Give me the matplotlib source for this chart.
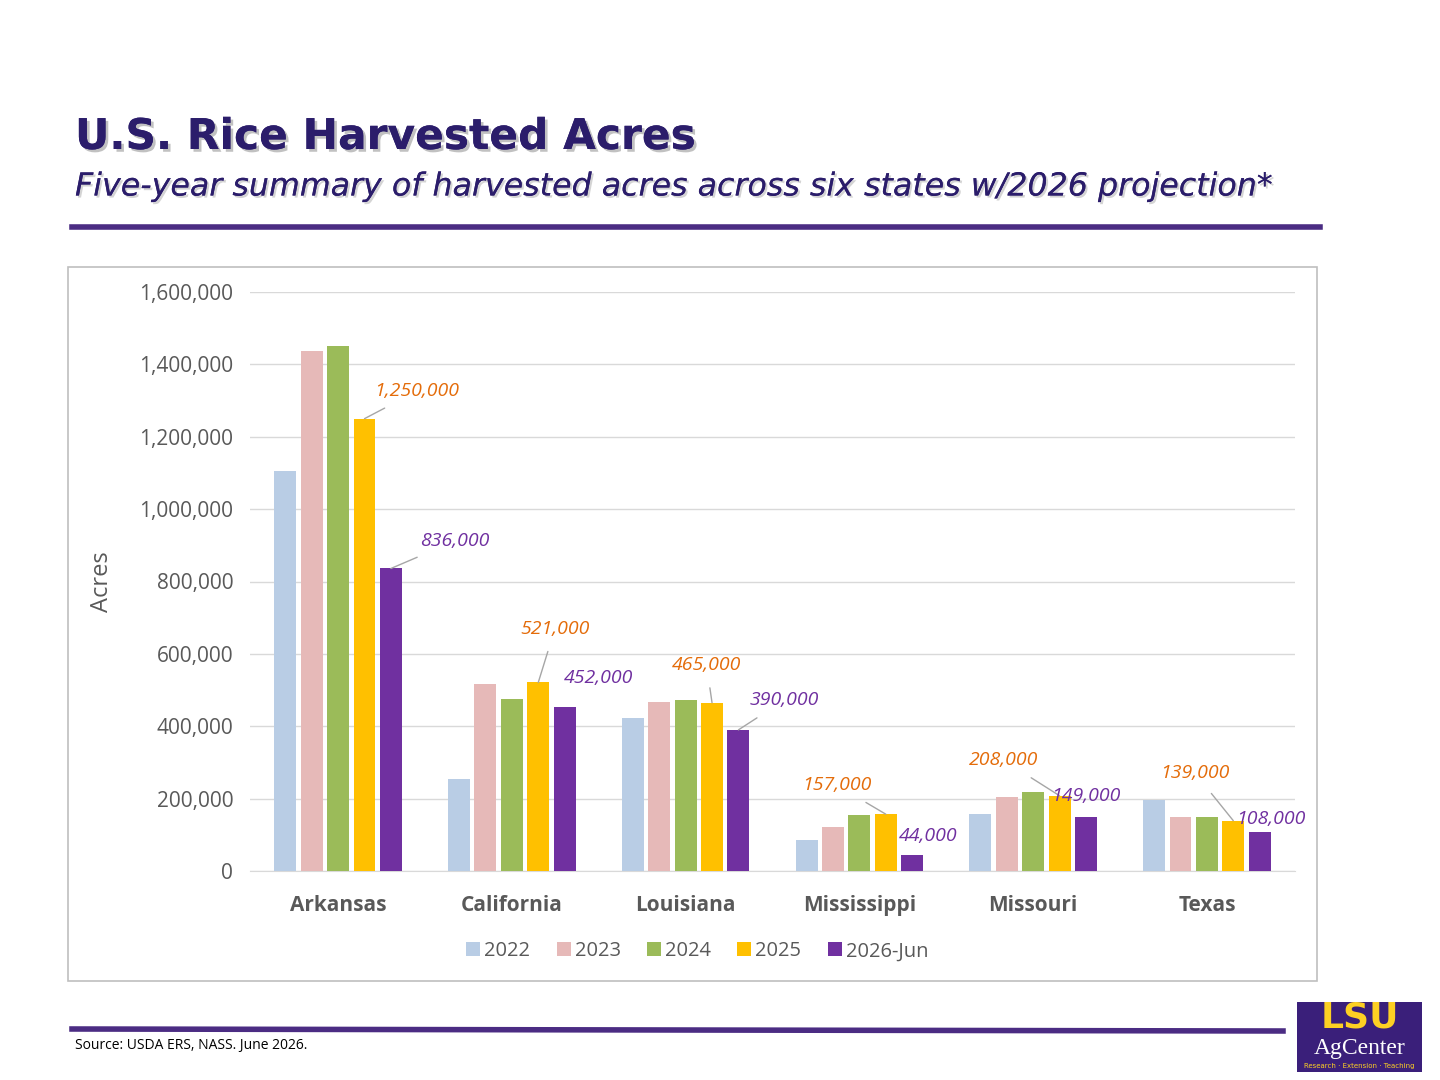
import matplotlib
matplotlib.use("Agg")
import matplotlib.pyplot as plt
import matplotlib.patheffects as pe
from matplotlib.patches import Rectangle
import numpy as np

states = ["Arkansas", "California", "Louisiana", "Mississippi", "Missouri", "Texas"]
years = ["2022", "2023", "2024", "2025", "2026-Jun"]
acres_2022 = [1105000, 254000, 423000, 86000, 157000, 196000]
acres_2023 = [1436000, 517000, 467000, 122000, 204000, 149000]
acres_2024 = [1450000, 475000, 472000, 155000, 218000, 149000]
acres_2025 = [1250000, 521000, 465000, 157000, 208000, 139000]
acres_2026 = [836000, 452000, 390000, 44000, 149000, 108000]
series = [acres_2022, acres_2023, acres_2024, acres_2025, acres_2026]
colors = ["#B9CDE5", "#E6B9B8", "#9BBB59", "#FFC000", "#7030A0"]

# label placement in figure pixels (x, y from top) and whether a leader line is drawn
lbl_2025 = [(417, 391, True), (555, 629, True), (707, 665, True), (837, 785, True), (1004, 760, True), (1196, 773, True)]
lbl_2026 = [(455, 541, True), (599, 678, False), (785, 700, True), (929, 836, False), (1087, 796, False), (1272, 819, False)]

W, H = 1440, 1080
fig = plt.figure(figsize=(14.4, 10.8), dpi=100)
FONT = "Open Sans"

def fx(px): return px / W
def fy(py): return 1 - py / H

# title block
fig.text(fx(75), fy(137), "U.S. Rice Harvested Acres", fontsize=30.5, fontweight="bold",
         color="#2B1D6B", va="center", family="DejaVu Sans",
         path_effects=[pe.withSimplePatchShadow(offset=(2, -2), shadow_rgbFace="#999999", alpha=0.6), pe.Normal()])
fig.text(fx(75), fy(187), "Five-year summary of harvested acres across six states w/2026 projection*",
         fontsize=22.8, style="italic", color="#2B1D6B", va="center", family="DejaVu Sans",
         path_effects=[pe.withSimplePatchShadow(offset=(1.5, -1.5), shadow_rgbFace="#aaaaaa", alpha=0.5), pe.Normal()])
fig.add_artist(plt.Line2D([fx(72), fx(1320)], [fy(227), fy(227)], color="#4B2C83", lw=4))
fig.add_artist(plt.Line2D([fx(72), fx(1283)], [fy(1029), fy(1031)], color="#4B2C83", lw=4))
fig.text(fx(75), fy(1046), "Source: USDA ERS, NASS. June 2026.", fontsize=10, va="center", family=FONT)

# chart frame
fig.add_artist(Rectangle((fx(68), fy(981)), fx(1317 - 68), (981 - 267) / H, fill=False,
                         ec="#BFBFBF", lw=1.2, transform=fig.transFigure))

ax = fig.add_axes([fx(250), fy(871), fx(1295 - 250), (871 - 292) / H])
n = len(states)
x = np.arange(n)
step, bw = 0.152, 0.126
for i, (vals, c, yr) in enumerate(zip(series, colors, years)):
    ax.bar(x + (i - 2) * step, vals, width=bw, color=c, label=yr, zorder=3)

ax.set_ylim(0, 1600000)
ax.set_xlim(-0.507, n - 1 + 0.507)
ax.set_yticks(np.arange(0, 1600001, 200000))
ax.set_yticklabels([f"{v:,}" for v in range(0, 1600001, 200000)], fontsize=15, color="#595959", family=FONT)
ax.set_xticks(x)
ax.set_xticklabels(states, fontsize=15, fontweight="bold", color="#595959", family=FONT)
ax.tick_params(axis="y", length=0, pad=12)
ax.tick_params(axis="x", length=0, pad=17)
ax.grid(axis="y", color="#D9D9D9", lw=1, zorder=0)
for s in ["top", "right", "left"]:
    ax.spines[s].set_visible(False)
ax.spines["bottom"].set_color("#D9D9D9")
ax.set_ylabel("Acres", fontsize=17, color="#595959", family=FONT, labelpad=18)

def to_data(px, py):
    return (px - 338) / 174, (871 - py) / 362 * 1e6

for vals, offs, col, k in [(acres_2025, lbl_2025, "#E46C0A", 3), (acres_2026, lbl_2026, "#7030A0", 4)]:
    for i, v in enumerate(vals):
        lx, ly = to_data(offs[i][0], offs[i][1])
        props = dict(arrowstyle="-", color="#A6A6A6", lw=1, shrinkA=8, shrinkB=0) if offs[i][2] else None
        ax.annotate(f"{v:,}", xy=(i + (k - 2) * step, v), xytext=(lx, ly), textcoords="data",
                    ha="center", va="center", fontsize=14, style="italic", color=col,
                    family=FONT, arrowprops=props, zorder=5)

ax.legend(loc="upper center", bbox_to_anchor=(0.428, -0.09), ncol=5, frameon=False,
          prop={"family": FONT, "size": 14.5}, handlelength=0.7, handleheight=0.7,
          handletextpad=0.2, columnspacing=1.3, labelcolor="#595959")

# logo
lg = fig.add_axes([fx(1297), fy(1072), fx(125), 70 / H])
lg.set_xlim(0, 1); lg.set_ylim(0, 1); lg.axis("off")
lg.add_patch(Rectangle((0, 0), 1, 1, color="#3A1F7A"))
lg.text(0.5, 0.78, "LSU", ha="center", va="center", fontsize=26, fontweight="bold", color="#FDD023", family="DejaVu Sans")
lg.text(0.5, 0.33, "AgCenter", ha="center", va="center", fontsize=17, color="white", family="Liberation Serif")
lg.text(0.5, 0.08, "Research · Extension · Teaching", ha="center", va="center", fontsize=5, color="#FDD023")

fig.savefig("out.png", dpi=100)
